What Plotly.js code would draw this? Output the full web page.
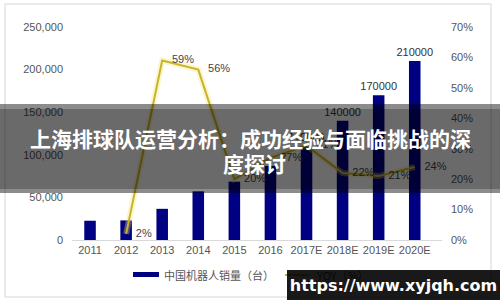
<!DOCTYPE html>
<html>
<head>
<meta charset="utf-8">
<script src="https://cdn.plot.ly/plotly-3.0.1.min.js"></script>
<style>html,body{margin:0;padding:0;background:#fff;}#chart{width:500px;height:300px;}</style>
</head>
<body>
<div id="chart"></div>
<script>
// ---- data ----
const years = ['2011','2012','2013','2014','2015','2016','2017E','2018E','2019E','2020E'];
const sales = [22600, 23000, 36600, 57100, 68500, 87000, 110000, 140000, 170000, 210000];
const yoyYears = ['2012','2013','2014','2015','2016','2017E','2018E','2019E','2020E'];
const yoy = [2, 59, 56, 20, 27, 31, 22, 21, 24];
const salesLabelFrom = '2017E';
const seriesNames = ['中国机器人销量（台）', 'YOY（%）'];
const titleLines = ['上海排球队运营分析：成功经验与面临挑战的深', '度探讨'];
const watermark = 'https://www.xyjqh.com';

// ---- layout helpers (pixel -> paper) ----
const L = 72, R = 58, T = 27, B = 60, W = 500, H = 300;
const pw = W - L - R, ph = H - T - B;
const px = x => (x - L) / pw;
const py = y => (H - B - y) / ph;

const labelStart = years.indexOf(salesLabelFrom);
const barText = sales.map((v, i) => i >= labelStart ? String(v) : '');

const navy = '#000083';
const lineCol = '#c8b42c';
const tickFont = {family: 'Liberation Sans, Arial, sans-serif', size: 11, color: '#555'};

const traces = [
  {
    type: 'bar', x: years, y: sales, name: seriesNames[0],
    marker: {color: navy}, text: barText, textposition: 'outside', constraintext: 'none',
    textfont: {family: 'Liberation Sans, Arial, sans-serif', size: 11, color: '#333'},
    cliponaxis: false, showlegend: false, hoverinfo: 'none'
  },
  {
    type: 'scatter', mode: 'lines', x: yoyYears, y: yoy, yaxis: 'y2',
    line: {color: 'rgba(245,228,110,0.35)', width: 6}, showlegend: false, hoverinfo: 'none'
  },
  {
    type: 'scatter', mode: 'lines+markers+text', x: yoyYears, y: yoy, yaxis: 'y2', name: seriesNames[1],
    line: {color: lineCol, width: 2}, marker: {size: 14, opacity: 0, color: lineCol},
    text: yoy.map(v => v + '%'),
    textposition: 'middle right',
    textfont: {family: 'Liberation Sans, Arial, sans-serif', size: 11, color: '#444'},
    cliponaxis: false, showlegend: false, hoverinfo: 'none'
  }
];

const layout = {
  width: W, height: H,
  margin: {l: L, r: R, t: T, b: B, pad: 0},
  paper_bgcolor: '#fff', plot_bgcolor: '#fff',
  bargap: 0.68,
  showlegend: false,
  xaxis: {
    type: 'category', showline: true, linecolor: '#d9d9d9', linewidth: 1,
    showgrid: false, zeroline: false, ticks: '', tickfont: tickFont, fixedrange: true
  },
  yaxis: {
    range: [0, 250000], dtick: 50000, tickformat: ',d', showgrid: false, zeroline: false,
    showline: false, ticks: '', tickfont: tickFont, ticklabelstandoff: 8
  },
  yaxis2: {
    overlaying: 'y', side: 'right', range: [0, 70], dtick: 10, ticksuffix: '%',
    showgrid: false, zeroline: false, showline: false, ticks: '', tickfont: tickFont,
    ticklabelstandoff: 8
  },
  shapes: [
    // frame
    {type: 'rect', xref: 'paper', yref: 'paper', x0: px(5), x1: px(491), y0: py(297), y1: py(4),
     line: {color: '#d6d6d6', width: 1}, fillcolor: 'rgba(0,0,0,0)', layer: 'below'},
    // banner
    {type: 'rect', xref: 'paper', yref: 'paper', x0: px(0), x1: px(500), y0: py(193), y1: py(104),
     line: {width: 0}, fillcolor: 'rgba(0,0,0,0.45)', layer: 'above'},
    {type: 'rect', xref: 'paper', yref: 'paper', x0: px(0), x1: px(500), y0: py(189), y1: py(109),
     line: {width: 0}, fillcolor: 'rgba(0,0,0,0.24)', layer: 'above'},
    // legend markers
    {type: 'rect', xref: 'paper', yref: 'paper', x0: px(133), x1: px(159), y0: py(277), y1: py(272),
     line: {width: 0}, fillcolor: navy, layer: 'above'},
    {type: 'line', xref: 'paper', yref: 'paper', x0: px(285), x1: px(310), y0: py(275), y1: py(275),
     line: {color: lineCol, width: 2}, layer: 'above'}
  ],
  annotations: [
    {xref: 'paper', yref: 'paper', x: px(162), y: py(275), xanchor: 'left', yanchor: 'middle',
     text: seriesNames[0], showarrow: false,
     font: {family: 'Noto Sans CJK SC, sans-serif', size: 11, color: '#555'}},
    {xref: 'paper', yref: 'paper', x: px(314), y: py(275), xanchor: 'left', yanchor: 'middle',
     text: seriesNames[1], showarrow: false,
     font: {family: 'Noto Sans CJK SC, sans-serif', size: 11, color: '#555'}},
    {xref: 'paper', yref: 'paper', x: px(250), y: py(138), xanchor: 'center', yanchor: 'middle',
     text: '<b>' + titleLines[0] + '</b>', showarrow: false,
     font: {family: 'Noto Sans CJK SC, sans-serif', size: 21, color: '#fff'}},
    {xref: 'paper', yref: 'paper', x: px(254), y: py(163), xanchor: 'center', yanchor: 'middle',
     text: '<b>' + titleLines[1] + '</b>', showarrow: false,
     font: {family: 'Noto Sans CJK SC, sans-serif', size: 21, color: '#fff'}},
    {xref: 'paper', yref: 'paper', x: px(287), y: py(270), xanchor: 'left', yanchor: 'top',
     width: 213, height: 30, borderpad: 0, borderwidth: 0, bgcolor: 'rgba(0,0,0,0.9)',
     align: 'center', valign: 'middle',
     text: '<b>' + watermark + '</b>', showarrow: false,
     font: {family: 'DejaVu Sans, sans-serif', size: 16, color: '#fff'}}
  ]
};

Plotly.newPlot('chart', traces, layout, {staticPlot: true, displayModeBar: false});
</script>
</body>
</html>
